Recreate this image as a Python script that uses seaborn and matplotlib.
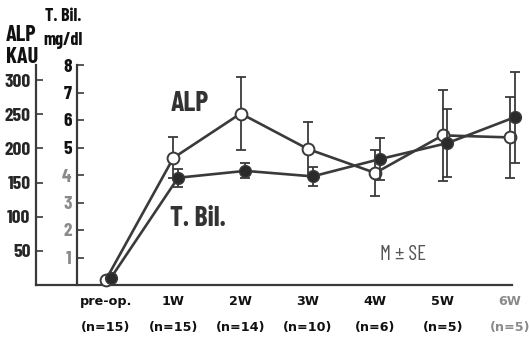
import matplotlib
matplotlib.use("Agg")
import matplotlib.pyplot as plt
import seaborn as sns
import pandas as pd
from matplotlib import font_manager

# data
periods = ["pre-op.", "1W", "2W", "3W", "4W", "5W", "6W"]
n_labels = ["(n=15)", "(n=15)", "(n=14)", "(n=10)", "(n=6)", "(n=5)", "(n=5)"]
alp_mean = [8, 186, 251, 199, 164, 219, 216]
alp_se = [0, 30, 53, 40, 34, 67, 59]
tbil_mean = [0.25, 3.9, 4.15, 3.95, 4.58, 5.16, 6.1]
tbil_se = [0, 0.32, 0.27, 0.35, 0.77, 1.24, 1.65]
alp_ticks = [50, 100, 150, 200, 250, 300]
tbil_ticks = [1, 2, 3, 4, 5, 6, 7, 8]

sns.set_style("white")
names = {f.name for f in font_manager.fontManager.ttflist}
if "Barlow Condensed" in names:
    plt.rcParams["font.family"] = ["Barlow Condensed", "DejaVu Sans"]
    k = 1.0
else:
    plt.rcParams["font.family"] = ["DejaVu Sans"]
    k = 0.72  # wider font, so shrink
plt.rcParams["font.weight"] = "bold"

dark = "#3a3a3a"
W, H = 529, 341
fig = plt.figure(figsize=(W / 100, H / 100), dpi=100)
ax = fig.add_axes([36 / W, 1 - 285 / H, (512 - 36) / W, (285 - 65) / H])
ax2 = ax.twinx()

df = pd.DataFrame({"x": range(len(periods)), "alp": alp_mean, "tbil": tbil_mean})
off = 0.07

# ALP, open circles
ax.errorbar(df["x"], alp_mean, yerr=alp_se, fmt="none", ecolor=dark,
            elinewidth=1.3, capsize=3.3, capthick=1.3, zorder=2, clip_on=False)
sns.lineplot(x=df["x"], y=df["alp"], ax=ax, color=dark, lw=1.9, marker="o",
             markersize=8.5, markerfacecolor="white", markeredgecolor=dark,
             markeredgewidth=1.4, zorder=3, clip_on=False)

# T.Bil, filled circles
ax2.errorbar(df["x"] + off, tbil_mean, yerr=tbil_se, fmt="none", ecolor=dark,
             elinewidth=1.3, capsize=3.3, capthick=1.3, zorder=2, clip_on=False)
sns.lineplot(x=df["x"] + off, y=df["tbil"], ax=ax2, color=dark, lw=1.9, marker="o",
             markersize=8.5, markerfacecolor="#2a2a2a", markeredgecolor=dark,
             markeredgewidth=1.0, zorder=3, clip_on=False)

ax.set_xlim(-1.04, 6.03)
ax.set_ylim(0, 322)
ax2.set_ylim(0, 8)
ax.set_xlabel("")
ax.set_ylabel("")
ax2.set_ylabel("")

for a in (ax, ax2):
    for s in a.spines.values():
        s.set_visible(False)
ax.spines["left"].set_visible(True)
ax.spines["bottom"].set_visible(True)
ax2.spines["left"].set_visible(True)
ax2.spines["left"].set_position(("data", -0.43))
for s in (ax.spines["left"], ax.spines["bottom"], ax2.spines["left"]):
    s.set_color(dark)
    s.set_linewidth(1.6)

ax.set_yticks(alp_ticks)
ax.set_yticklabels([str(t) for t in alp_ticks], fontsize=14 * k, fontweight="bold")
ax.tick_params(axis="y", direction="in", length=5, width=1.2, color=dark, pad=4,
               left=True, labelleft=True)

ax2.yaxis.tick_left()
ax2.set_yticks(tbil_ticks)
ax2.set_yticklabels([str(t) for t in tbil_ticks], fontsize=14 * k, fontweight="bold")
ax2.tick_params(axis="y", direction="in", length=5, width=1.2, color=dark, pad=4,
                left=True, labelleft=True, right=False, labelright=False)
for lbl, t in zip(ax2.get_yticklabels(), tbil_ticks):
    lbl.set_color("#111111" if t >= 5 else "#8a8a8a")

# x labels are wide-spaced in the scan, plain DejaVu bold fits them better
ax.set_xticks(range(len(periods)))
ax.set_xticklabels([f"{p}\n\n{n}" for p, n in zip(periods, n_labels)],
                   fontsize=9.2, fontweight="bold", linespacing=1.0,
                   family="DejaVu Sans")
ax.tick_params(axis="x", direction="in", length=4, width=1.2, color=dark, pad=7)
for i, lbl in enumerate(ax.get_xticklabels()):
    lbl.set_color("#8a8a8a" if i == len(periods) - 1 else "#111111")

# axis titles
fig.text(6 / W, 1 - 25 / H, "ALP\nKAU", ha="left", va="top", fontsize=16 * k,
         fontweight="bold", linespacing=1.15, color="#111111")
fig.text(63 / W, 1 - 8 / H, "T. Bil.\nmg/dl", ha="center", va="top", fontsize=13 * k,
         fontweight="bold", linespacing=1.55, color="#111111")

# in-plot labels
ax.text(1.25, 265, "ALP", ha="center", va="center", fontsize=20 * k, color="#333333")
ax2.text(1.37, 2.4, "T. Bil.", ha="center", va="center", fontsize=20 * k, color="#333333")
ax2.text(4.41, 1.1, "M ± SE", ha="center", va="center", fontsize=15 * k,
         color="#555555", fontweight="normal")

fig.savefig("out.png", dpi=100)
